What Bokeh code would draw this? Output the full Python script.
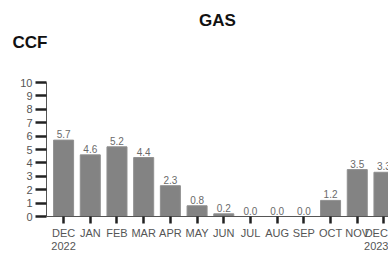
from bokeh.plotting import figure
from bokeh.models import ColumnDataSource, Range1d, FixedTicker, Title
from bokeh.core.properties import value
from bokeh.embed import file_html
from bokeh.resources import INLINE

months = ["DEC", "JAN", "FEB", "MAR", "APR", "MAY", "JUN", "JUL", "AUG", "SEP", "OCT", "NOV", "DEC"]
years = {0: "2022", 12: "2023"}
gas_ccf = [5.7, 4.6, 5.2, 4.4, 2.3, 0.8, 0.2, 0.0, 0.0, 0.0, 1.2, 3.5, 3.3]
y_ticks = [0, 1, 2, 3, 4, 5, 6, 7, 8, 9, 10]

xs = list(range(len(months)))
src = ColumnDataSource(dict(x=xs, v=gas_ccf, lab=[f"{v:.1f}" for v in gas_ccf]))

p = figure(width=388, height=254, output_backend="svg", toolbar_location=None,
           x_range=Range1d(-0.64, 12.17), y_range=Range1d(0, 10),
           min_border_left=46, min_border_right=0, min_border_top=82, min_border_bottom=37)
p.outline_line_color = None
p.xgrid.visible = False
p.ygrid.visible = False
p.background_fill_color = "white"

p.vbar(x="x", top="v", width=0.75, source=src, fill_color="#838383", line_color="#909090", line_width=1)
p.text(x="x", y="v", text="lab", source=src, text_align="center", text_baseline="bottom",
       y_offset=-2, text_font=value("Liberation Sans"), text_font_size="10px", text_color="#6a6a6a")

# y axis
ya = p.yaxis[0]
ya.ticker = FixedTicker(ticks=y_ticks)
ya.minor_tick_line_color = None
ya.major_tick_in = 0
ya.major_tick_out = 11
ya.major_tick_line_width = 2.5
ya.major_tick_line_color = "#222222"
ya.axis_line_color = "#555555"
ya.axis_line_width = 1
ya.major_label_standoff = 3
ya.major_label_text_font = "Liberation Sans"
ya.major_label_text_font_size = "11px"
ya.major_label_text_color = "#555555"

# x axis
xa = p.xaxis[0]
xa.ticker = FixedTicker(ticks=xs)
overrides = {}
for i, m in enumerate(months):
    overrides[i] = m + ("\n" + years[i] if i in years else "")
xa.major_label_overrides = overrides
xa.minor_tick_line_color = None
xa.major_tick_in = 0
xa.major_tick_out = 7
xa.major_tick_line_width = 2.5
xa.major_tick_line_color = "#222222"
xa.axis_line_color = "#555555"
xa.axis_line_width = 1
xa.major_label_standoff = 3
xa.major_label_text_line_height = 1.1
xa.major_label_text_font = "Liberation Sans"
xa.major_label_text_font_size = "11px"
xa.major_label_text_color = "#555555"

# spacer between the unit title and the plot area
p.add_layout(Title(text=" ", standoff=17, text_font_size="10px"), "above")
p.add_layout(Title(text="CCF", align="left", offset=-34, standoff=2,
                   text_font="Liberation Sans", text_font_style="bold",
                   text_font_size="17px", text_color="#111111"), "above")
p.add_layout(Title(text="GAS", align="center", offset=-19, standoff=0,
                   text_font="Liberation Sans", text_font_style="bold",
                   text_font_size="17px", text_color="#111111"), "above")

open("out.html", "w").write(file_html(p, INLINE))
